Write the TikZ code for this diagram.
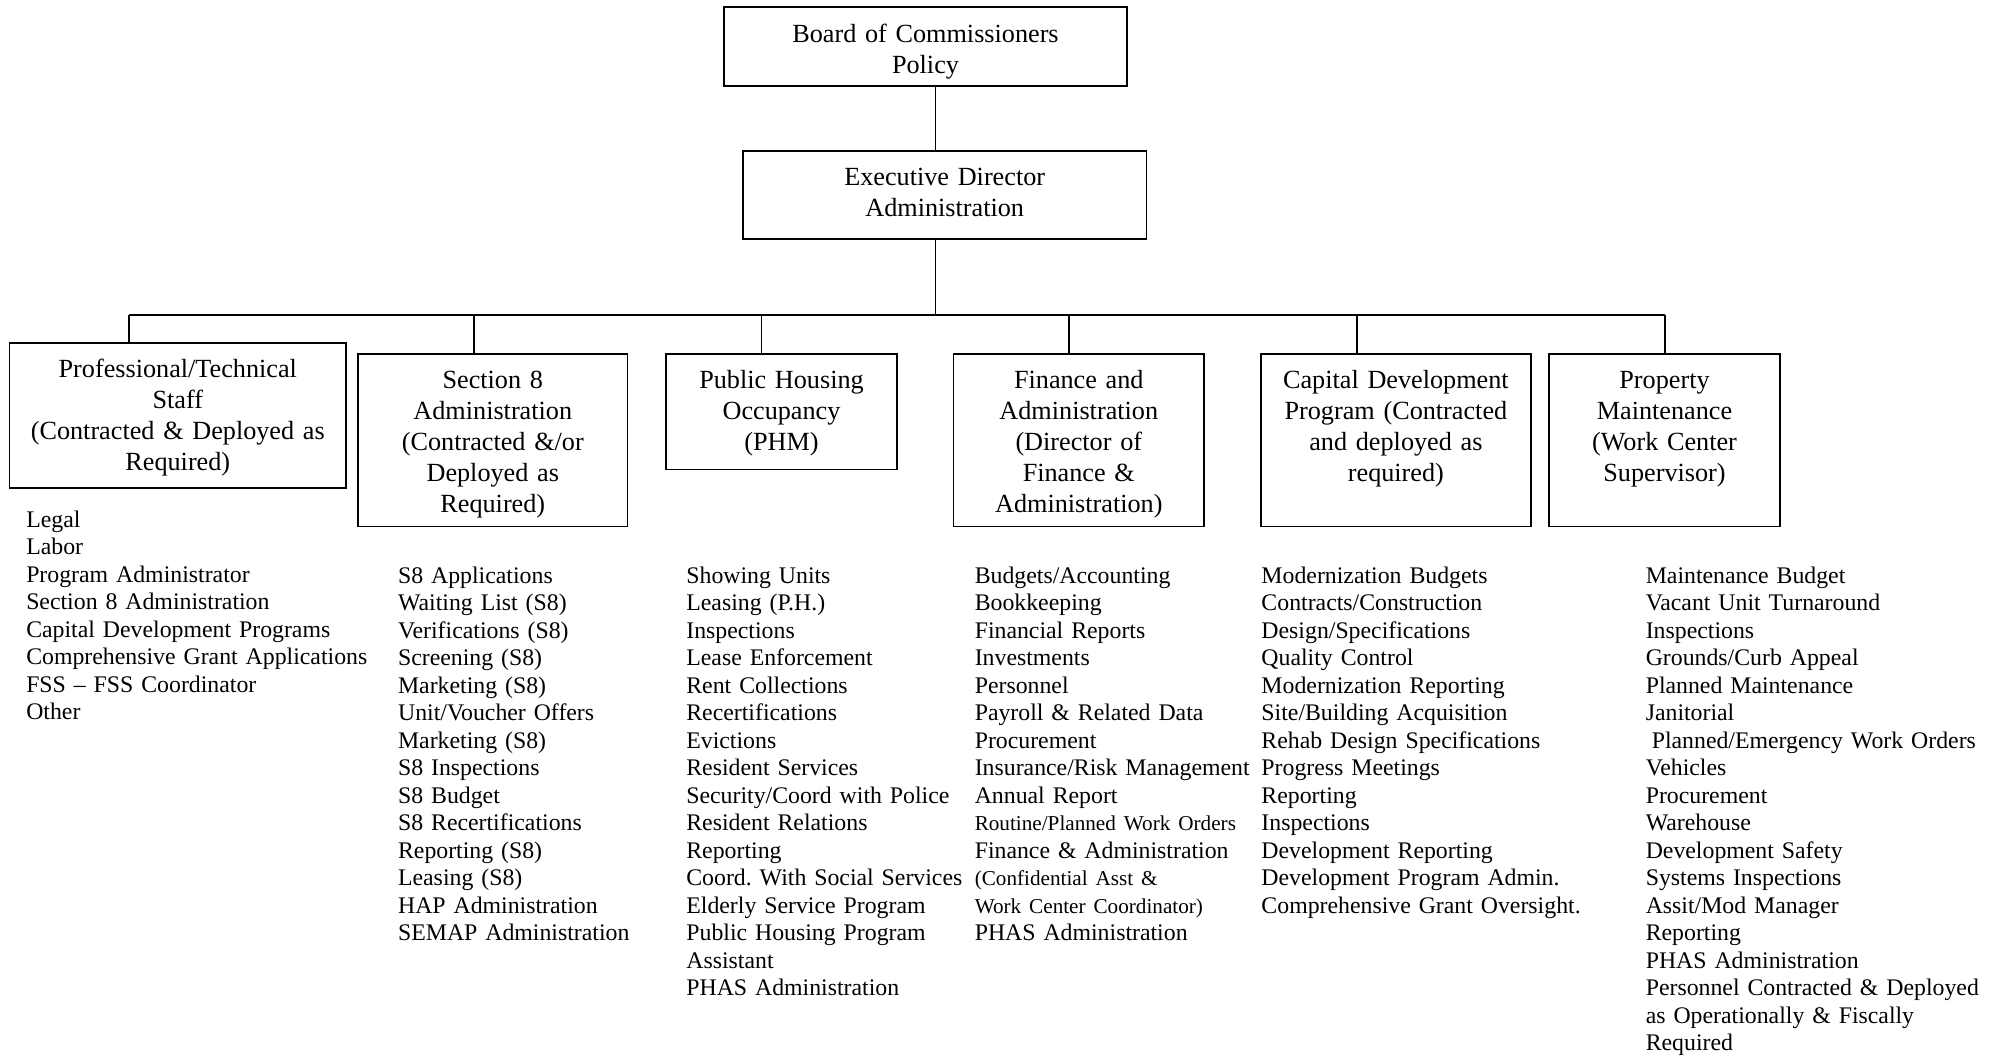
\documentclass[tikz,border=0pt]{standalone}
\usepackage{fontspec}
\setmainfont{Liberation Serif}
\frenchspacing
\tikzset{every picture/.style={line width=0.7pt}}
\tikzset{
	unit/.style={draw, anchor=north, inner sep=0pt, align=center, text height=15.7pt, font=\fontsize{12}{14.2}\selectfont},
	duties/.style={anchor=base west, inner sep=0pt, text width=160pt, align=left, font=\fontsize{10.9}{12.6}\selectfont}}
\newcommand{\smallduty}[1]{{\fontsize{9.7}{12.6}\selectfont #1}}

\begin{document}
\begin{tikzpicture}[x=0.458pt,y=0.458pt,yscale=-1]
	\useasboundingbox (0,0) rectangle (1996,1055);
	
	%Shape: Rectangle [board]
	\node[unit, text width=184.6pt, text height=16.2pt, text depth=20pt] (board) at (925.5,6) {Board of Commissioners\\Policy};
	%Shape: Rectangle [exec]
	\node[unit, text width=184.8pt, text height=15.9pt, text depth=24.4pt] (exec) at (944.7,150) {Executive Director\\Administration};
	
	%Shape: Rectangle [departments]
	\node[unit, text width=154.1pt, text depth=50.7pt] (pts) at (177.8,342) {Professional/Technical\\Staff\\(Contracted \& Deployed as\\Required)};
	\node[unit, text width=123.4pt, text depth=63.5pt] (sec8) at (492.8,353) {Section 8\\Administration\\(Contracted \&/or\\Deployed as\\Required)};
	\node[unit, text width=105.8pt, text depth=37.4pt] (phm) at (781.5,353) {Public Housing\\Occupancy\\(PHM)};
	\node[unit, text width=114.7pt, text depth=63.5pt] (fin) at (1078.8,353) {Finance and\\Administration\\(Director of\\Finance \&\\Administration)};
	\node[unit, text width=123.8pt, text depth=63.5pt] (cdp) at (1395.9,353) {Capital Development\\Program (Contracted\\and deployed as\\required)};
	\node[unit, text width=105.8pt, text depth=63.5pt] (pm) at (1664.5,353) {Property\\Maintenance\\(Work Center\\Supervisor)};
	
	%Straight Lines
	\coordinate (hub) at (935.5,315);
	\coordinate (d1) at (129,315);
	\coordinate (d2) at (474,315);
	\coordinate (d3) at (761.5,315);
	\coordinate (d4) at (1069,315);
	\coordinate (d5) at (1357,315);
	\coordinate (d6) at (1665,315);
	\draw (board.south -| hub) -- (exec.north -| hub);
	\draw (exec.south -| hub) -- (hub);
	\draw (d1) -- (d6);
	\draw (d1) -- (d1 |- pts.north);
	\draw (d2) -- (d2 |- sec8.north);
	\draw (d3) -- (d3 |- phm.north);
	\draw (d4) -- (d4 |- fin.north);
	\draw (d5) -- (d5 |- cdp.north);
	\draw (d6) -- (d6 |- pm.north);
	
	% Text Node
	\node[duties] (ptsduties) at (25.5,527) {Legal\\Labor\\Program Administrator\\Section 8 Administration\\Capital Development Programs\\Comprehensive Grant Applications\\FSS – FSS Coordinator\\Other};
	% Text Node
	\node[duties] (sec8duties) at (397.3,583) {S8 Applications\\Waiting List (S8)\\Verifications (S8)\\Screening (S8)\\Marketing (S8)\\Unit/Voucher Offers\\Marketing (S8)\\S8 Inspections\\S8 Budget\\S8 Recertifications\\Reporting (S8)\\Leasing (S8)\\HAP Administration\\SEMAP Administration};
	% Text Node
	\node[duties] (phmduties) at (685.6,583) {Showing Units\\Leasing (P.H.)\\Inspections\\Lease Enforcement\\Rent Collections\\Recertifications\\Evictions\\Resident Services\\Security/Coord with Police\\Resident Relations\\Reporting\\Coord. With Social Services\\Elderly Service Program\\Public Housing Program\\Assistant\\PHAS Administration};
	% Text Node
	\node[duties] (finduties) at (974,583) {Budgets/Accounting\\Bookkeeping\\Financial Reports\\Investments\\Personnel\\Payroll \& Related Data\\Procurement\\Insurance/Risk Management\\Annual Report\\\smallduty{Routine/Planned Work Orders}\\Finance \& Administration\\\smallduty{(Confidential Asst \&}\\\smallduty{Work Center Coordinator)}\\PHAS Administration};
	% Text Node
	\node[duties] (cdpduties) at (1260.7,583) {Modernization Budgets\\Contracts/Construction\\Design/Specifications\\Quality Control\\Modernization Reporting\\Site/Building Acquisition\\Rehab Design Specifications\\Progress Meetings\\Reporting\\Inspections\\Development Reporting\\Development Program Admin.\\Comprehensive Grant Oversight.};
	% Text Node
	\node[duties] (pmduties) at (1645,583) {Maintenance Budget\\Vacant Unit Turnaround\\Inspections\\Grounds/Curb Appeal\\Planned Maintenance\\Janitorial\\\hspace*{2.75pt}Planned/Emergency Work Orders\\Vehicles\\Procurement\\Warehouse\\Development Safety\\Systems Inspections\\Assit/Mod Manager\\Reporting\\PHAS Administration\\Personnel Contracted \& Deployed\\as Operationally \& Fiscally\\Required};
	
\end{tikzpicture}
\end{document}
